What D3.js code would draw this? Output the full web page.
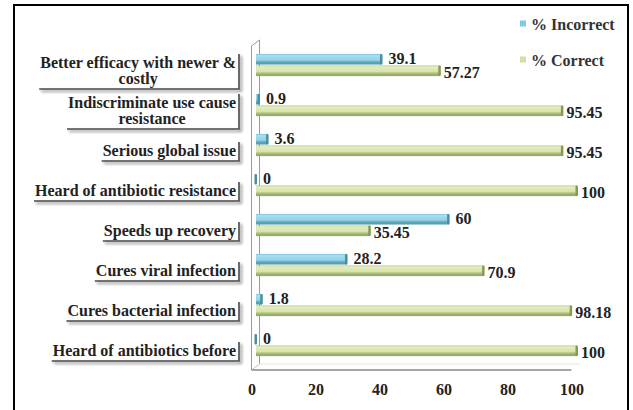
<!DOCTYPE html>
<html>
<head>
<meta charset="utf-8">
<script src="https://cdn.jsdelivr.net/npm/d3@7/dist/d3.min.js"></script>
<style>
  html, body { margin: 0; padding: 0; background: #fff; }
  svg { display: block; }
</style>
</head>
<body>
<svg id="chart" width="633" height="410"></svg>
<script>
// Survey statements, top to bottom (each entry is the wrapped label lines)
const categories = [
  ["Better efficacy with newer &", "costly"],
  ["Indiscriminate use cause", "resistance"],
  ["Serious global issue"],
  ["Heard of antibiotic resistance"],
  ["Speeds up recovery"],
  ["Cures viral infection"],
  ["Cures bacterial infection"],
  ["Heard of antibiotics before"]
];
const incorrect = [39.1, 0.9, 3.6, 0, 60, 28.2, 1.8, 0];
const correct = [57.27, 95.45, 95.45, 100, 35.45, 70.9, 98.18, 100];
const seriesNames = ["% Incorrect", "% Correct"];
const xTicks = [0, 20, 40, 60, 80, 100];

const FONT = '"Liberation Serif"';
const FS = 16;
const svg = d3.select("#chart");

function label(sel) {
  return sel.attr("font-family", FONT).attr("font-weight", "bold").attr("font-size", FS).attr("fill", "#222");
}

// Frame around the whole figure
svg.append("rect").attr("x", 14).attr("y", 5).attr("width", 614).attr("height", 420)
  .attr("fill", "#fff").attr("stroke", "#000").attr("stroke-width", 2);

const defs = svg.append("defs");
function barGradient(id, stops) {
  const g = defs.append("linearGradient").attr("id", id)
    .attr("x1", 0).attr("y1", 0).attr("x2", 0).attr("y2", 1);
  stops.forEach(([o, c]) => g.append("stop").attr("offset", o).attr("stop-color", c));
}
barGradient("gInc", [["0%", "#6cc0d8"], ["12%", "#a8def0"], ["60%", "#92d3ea"], ["72%", "#68aebf"], ["100%", "#4f95a4"]]);
barGradient("gCor", [["0%", "#b4c483"], ["12%", "#e4edc0"], ["60%", "#d6e3a6"], ["72%", "#aabd7c"], ["100%", "#8fa460"]]);

const shadow = defs.append("filter").attr("id", "shadow")
  .attr("x", "-10%").attr("y", "-50%").attr("width", "130%").attr("height", "250%");
shadow.append("feGaussianBlur").attr("in", "SourceAlpha").attr("stdDeviation", 1.4).attr("result", "b");
shadow.append("feOffset").attr("in", "b").attr("dx", 1.5).attr("dy", 2).attr("result", "o");
shadow.append("feComponentTransfer").attr("in", "o").attr("result", "s")
  .append("feFuncA").attr("type", "linear").attr("slope", 0.55);
const fm = shadow.append("feMerge");
fm.append("feMergeNode").attr("in", "s");
fm.append("feMergeNode").attr("in", "SourceGraphic");

// 3D box: front edge of floor and wall, depth offset to the back
const depth = { dx: 8, dy: -6 };
const xFront = d3.scaleLinear().domain([0, 100]).range([251.5, 571.5]);
const xBar = d3.scaleLinear().domain([0, 100]).range([256, 577]);
const floorY = 370, wallTop = 46;

const y = d3.scaleBand().domain(d3.range(categories.length)).range([45, 365]).paddingInner(0.42).paddingOuter(0.21);
const ySub = d3.scaleBand().domain(seriesNames).range([0, y.bandwidth()]);

// Wall and floor outline
const frame = svg.append("g").attr("fill", "none").attr("stroke", "#9a9a9a").attr("stroke-width", 1);
const x0 = xFront(0);
frame.append("path").attr("d",
  `M${x0},${floorY} L${x0},${wallTop} L${x0 + depth.dx},${wallTop + depth.dy} L${x0 + depth.dx},${floorY + depth.dy}`);
frame.append("path").attr("d",
  `M${x0},${floorY} L${x0 + depth.dx},${floorY + depth.dy}`).attr("stroke", "#c4c4c4");
frame.append("path").attr("d",
  `M${x0 + depth.dx},${floorY + depth.dy} L${xFront(100) + depth.dx},${floorY + depth.dy}`).attr("stroke", "#e2e2e2");
frame.append("path").attr("d", `M${x0},${floorY} L${xFront(100)},${floorY}`).attr("stroke", "#8a8a8a").attr("stroke-width", 1.3);

// X axis tick labels
const xAxis = d3.axisBottom(xFront).tickValues(xTicks).tickSize(0).tickPadding(14);
const ax = svg.append("g").attr("transform", `translate(0,${floorY})`).call(xAxis);
ax.select(".domain").remove();
ax.attr("font-family", FONT).attr("font-size", FS).attr("font-weight", "bold");
label(ax.selectAll("text"));

// Bars
const series = [
  { name: seriesNames[0], values: incorrect, fill: "url(#gInc)", cap: "#4a8e9e" },
  { name: seriesNames[1], values: correct, fill: "url(#gCor)", cap: "#849a56" }
];
series.forEach(s => {
  const g = svg.append("g");
  s.values.forEach((v, i) => {
    const top = y(i) + ySub(s.name);
    const h = ySub.bandwidth();
    const w = Math.max(xBar(v) - xBar(0), 0);
    g.append("rect").attr("x", xBar(0)).attr("y", top + 0.5).attr("width", w).attr("height", h - 1)
      .attr("fill", s.fill);
    g.append("rect").attr("x", xBar(v) - 1.5).attr("y", top + 0.5).attr("width", 2.5).attr("height", h - 1)
      .attr("rx", 1).attr("fill", s.cap);
  });
});

// Value labels
series.forEach((s, si) => {
  s.values.forEach((v, i) => {
    const cy = y(i) + ySub(s.name) + ySub.bandwidth() / 2 + (si === 0 ? -1 : 2);
    label(svg.append("text")).attr("x", xBar(v) + (si === 0 ? 7 : 4)).attr("y", cy)
      .attr("dy", "0.35em").text(v);
  });
});

// Category labels: first line right-aligned, wrapped lines centred under it, shadowed bracket
const labelRight = 236;
categories.forEach((lines, i) => {
  const cy = y(i) + y.bandwidth() / 2 + 5;
  const lh = 16;
  const g = svg.append("g");
  const first = cy - (lines.length - 1) * lh / 2;
  let minX = labelRight, centre = labelRight;
  lines.forEach((ln, k) => {
    const t = label(g.append("text")).attr("dy", "0.35em")
      .attr("y", first + k * lh).text(ln);
    if (k === 0) {
      t.attr("x", labelRight).attr("text-anchor", "end");
      const bb0 = t.node().getBBox();
      centre = bb0.x + bb0.width / 2;
    } else {
      t.attr("x", centre).attr("text-anchor", "middle");
    }
    const bb = t.node().getBBox();
    minX = Math.min(minX, bb.x);
  });
  const bottom = first + (lines.length - 1) * lh + 11;
  g.append("path")
    .attr("d", `M${minX - 1},${bottom} L${labelRight + 3},${bottom} L${labelRight + 3},${first - 8}`)
    .attr("fill", "none").attr("stroke", "#4a4a4a").attr("stroke-width", 1.6)
    .attr("filter", "url(#shadow)");
});

// Legend
const legend = svg.append("g");
[{ name: seriesNames[0], c: "#7fcbe3", y: 24 }, { name: seriesNames[1], c: "#d3e0a5", y: 60 }].forEach(d => {
  legend.append("rect").attr("x", 520).attr("y", d.y - 3.5).attr("width", 6).attr("height", 6).attr("fill", d.c);
  label(legend.append("text")).attr("x", 531).attr("y", d.y).attr("dy", "0.35em")
    .attr("fill", "#333").text(d.name);
});
</script>
</body>
</html>
